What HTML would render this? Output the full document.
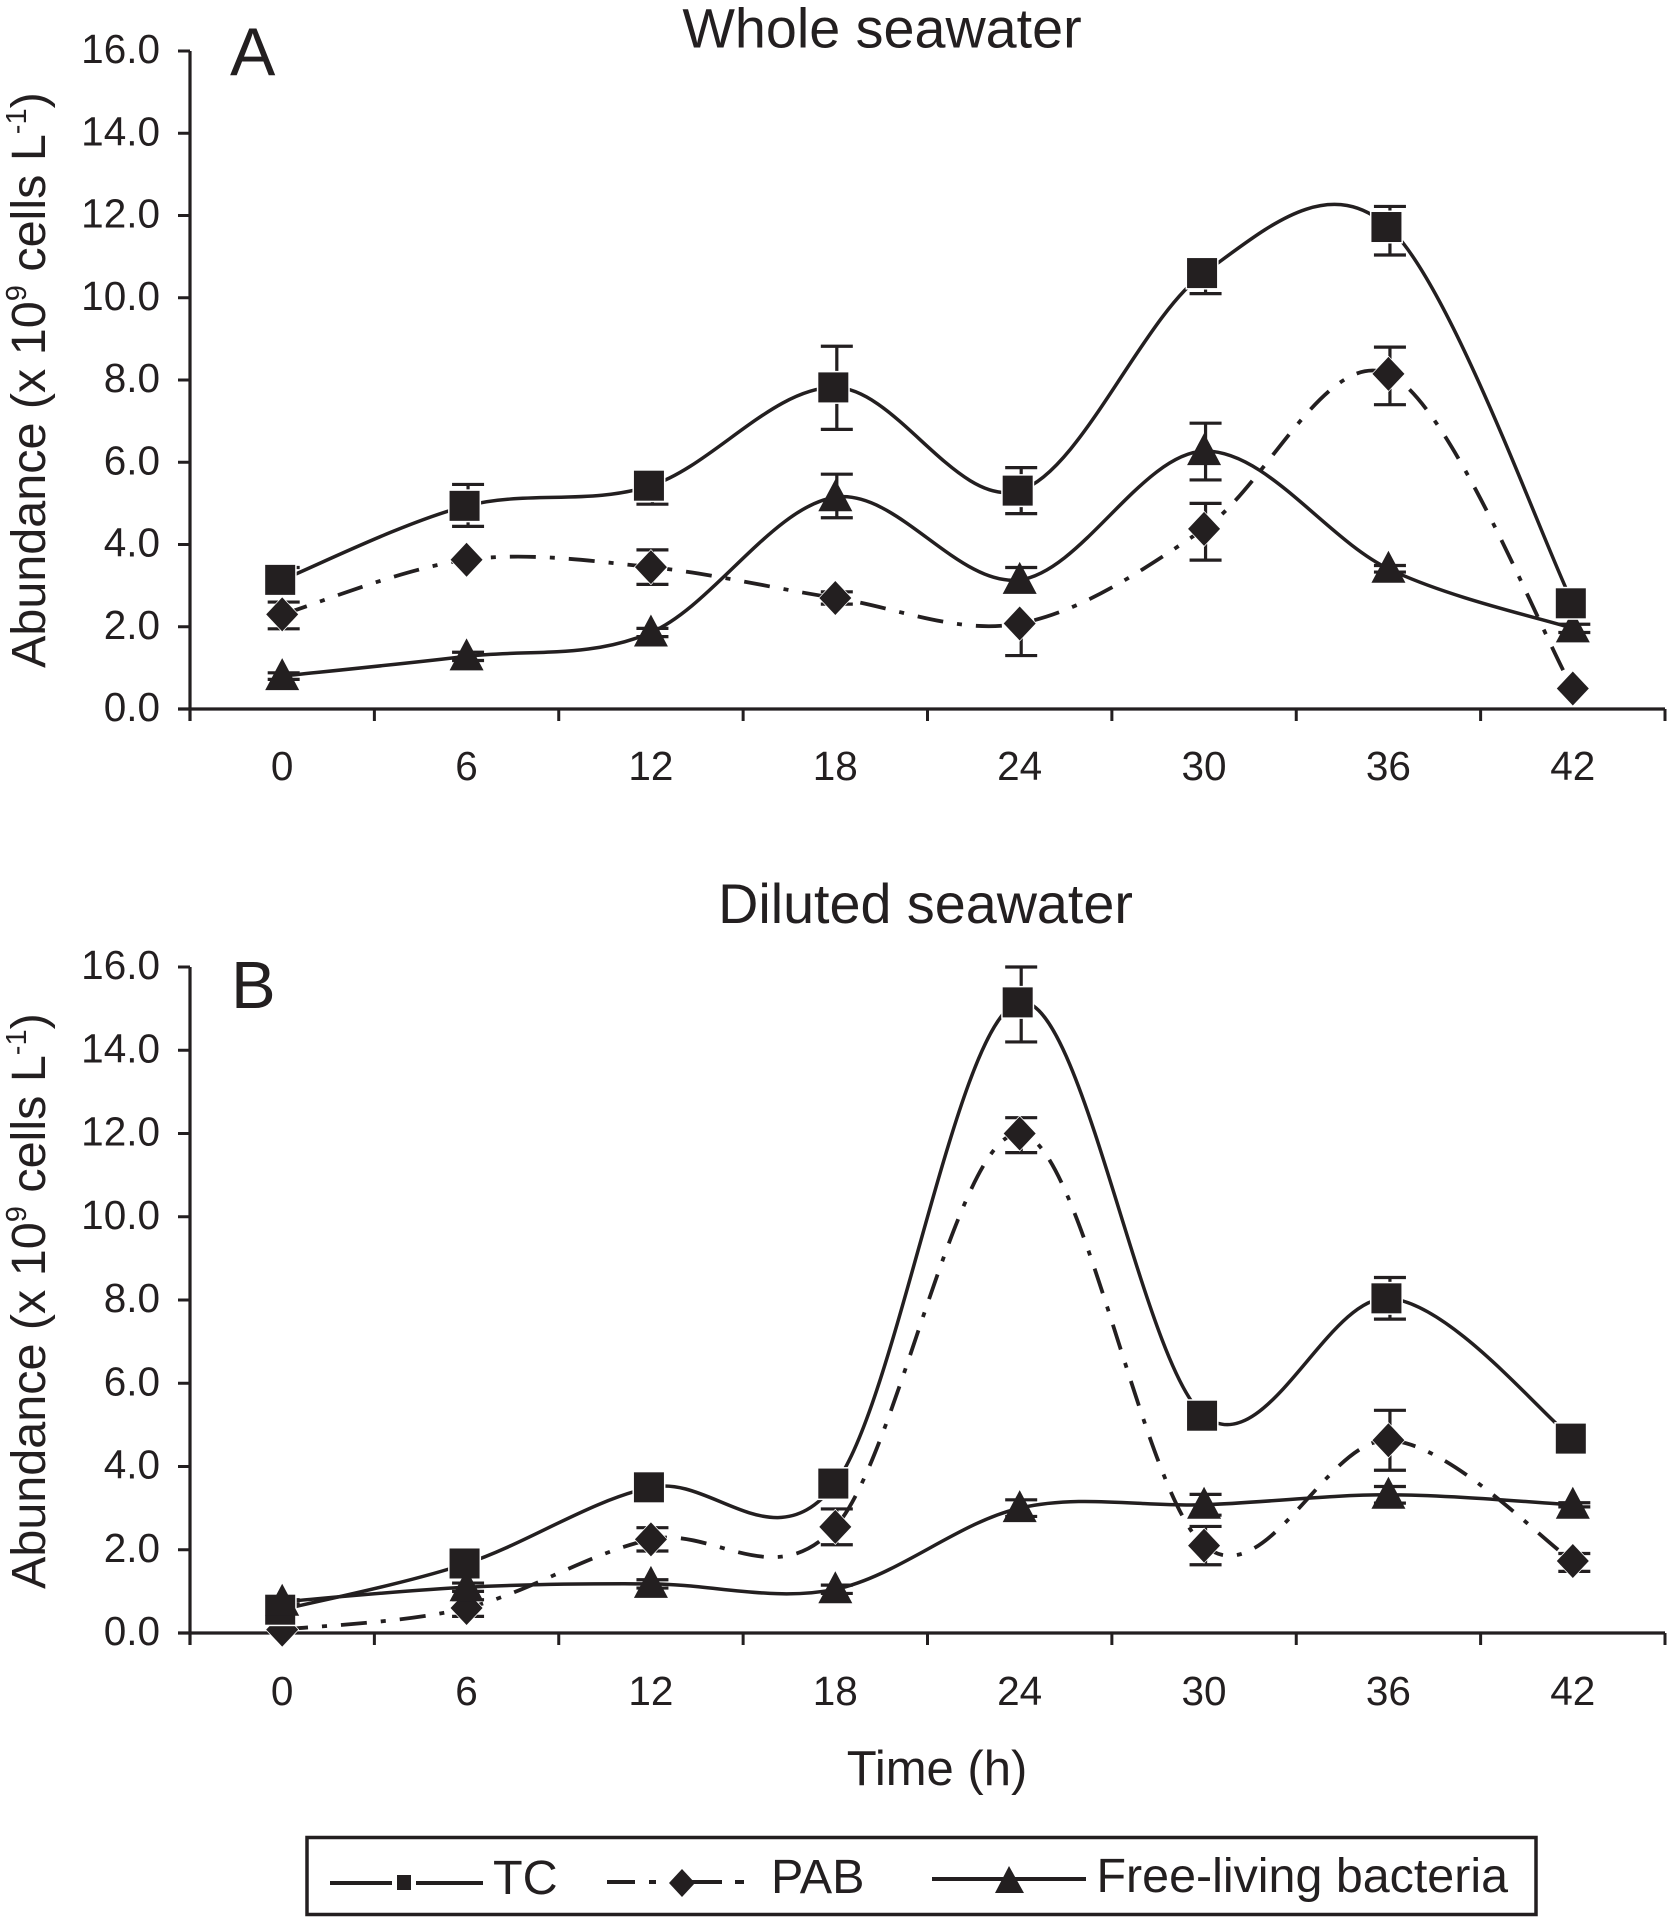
<!DOCTYPE html>
<html lang="en">
<head>
<meta charset="utf-8">
<title>Abundance over time in whole and diluted seawater</title>
<style>
html,body{margin:0;padding:0;background:#fff;width:1668px;height:1917px;overflow:hidden}
svg{display:block}
text{font-family:"Liberation Sans",Arial,sans-serif;fill:#231f20}
</style>
</head>
<body>
<svg id="chart" width="1668" height="1917" viewBox="0 0 1668 1917" xmlns="http://www.w3.org/2000/svg">
  <rect x="0" y="0" width="1668" height="1917" fill="#fff"/>
  <text x="882" y="47.5" font-size="55.7" text-anchor="middle">Whole seawater</text>
  <text x="925.5" y="923" font-size="55.7" text-anchor="middle">Diluted seawater</text>
  <text x="230" y="75" font-size="68">A</text>
  <text x="231" y="1008" font-size="67">B</text>
  <text transform="translate(45,668) rotate(-90)" font-size="48.5">Abundance (x 10<tspan dy="-19" font-size="29">9</tspan><tspan dy="19"> cells L</tspan><tspan dy="-19" font-size="29">-1</tspan><tspan dy="19">)</tspan></text>
  <text transform="translate(45,1589) rotate(-90)" font-size="48.5">Abundance (x 10<tspan dy="-19" font-size="29">9</tspan><tspan dy="19"> cells L</tspan><tspan dy="-19" font-size="29">-1</tspan><tspan dy="19">)</tspan></text>
  <text x="937" y="1785" font-size="49" text-anchor="middle">Time (h)</text>
  <g id="panel-a"></g>
  <g id="panel-b"></g>
  <g>
    <rect x="307" y="1837.5" width="1229" height="77" fill="#fff" stroke="#231f20" stroke-width="3.5"/>
    <g>
      <line x1="330" y1="1883" x2="392" y2="1883" stroke="#231f20" stroke-width="4"/>
      <line x1="416" y1="1883" x2="483" y2="1883" stroke="#231f20" stroke-width="4"/>
      <rect x="397" y="1875" width="14" height="15" fill="#231f20"/>
      <text x="493" y="1894" font-size="48.5">TC</text>
    </g>
    <g>
      <line x1="607" y1="1882" x2="635" y2="1882" stroke="#231f20" stroke-width="4"/>
      <line x1="649" y1="1882" x2="656" y2="1882" stroke="#231f20" stroke-width="4"/>
      <line x1="690" y1="1882" x2="722" y2="1882" stroke="#231f20" stroke-width="4"/>
      <line x1="735" y1="1882" x2="744" y2="1882" stroke="#231f20" stroke-width="4"/>
      <polygon points="682,1869 695,1883 682,1897 669,1883" fill="#231f20"/>
      <text x="771" y="1893" font-size="48.5">PAB</text>
    </g>
    <g>
      <line x1="932" y1="1879" x2="1086" y2="1879" stroke="#231f20" stroke-width="4"/>
      <polygon points="1009,1866 1024,1893 995,1893" fill="#231f20"/>
      <text x="1096.5" y="1892" font-size="48.4">Free-living bacteria</text>
    </g>
  </g>
</svg>
<script>
const timeLabels = ["0", "6", "12", "18", "24", "30", "36", "42"];
const yTickValues = [0, 2, 4, 6, 8, 10, 12, 14, 16];

const wholeTc = [3.14, 4.94, 5.43, 7.82, 5.31, 10.6, 11.72, 2.57];
const wholeTcErrUp = [0.3, 0.52, 0, 1.0, 0.56, 0, 0.5, 0];
const wholeTcErrDown = [0, 0.5, 0.45, 1.02, 0.56, 0.5, 0.68, 0];
const wholePab = [2.3, 3.63, 3.45, 2.7, 2.08, 4.38, 8.15, 0.5];
const wholePabErrUp = [0.3, 0, 0.42, 0.15, 0, 0.62, 0.65, 0];
const wholePabErrDown = [0.35, 0, 0.42, 0.15, 0.78, 0.76, 0.75, 0];
const wholeFree = [0.8, 1.28, 1.86, 5.15, 3.14, 6.27, 3.41, 1.96];
const wholeFreeErrUp = [0.08, 0.1, 0.1, 0.56, 0.3, 0.68, 0.08, 0.1];
const wholeFreeErrDown = [0.08, 0.1, 0.1, 0.5, 0, 0.7, 0.08, 0.1];

const dilutedTc = [0.56, 1.67, 3.5, 3.59, 15.15, 5.22, 8.04, 4.67];
const dilutedTcErrUp = [0, 0, 0, 0, 0.85, 0, 0.5, 0];
const dilutedTcErrDown = [0, 0, 0, 0, 0.95, 0, 0.5, 0];
const dilutedPab = [0.08, 0.6, 2.25, 2.55, 12, 2.1, 4.63, 1.73];
const dilutedPabErrUp = [0, 0.2, 0.28, 0.43, 0.38, 0.46, 0.72, 0.18];
const dilutedPabErrDown = [0, 0.2, 0.28, 0.43, 0.46, 0.46, 0.72, 0.25];
const dilutedFree = [0.75, 1.1, 1.18, 1.05, 3.0, 3.08, 3.32, 3.08];
const dilutedFreeErrUp = [0.05, 0.1, 0.1, 0.1, 0.2, 0.25, 0.2, 0.05];
const dilutedFreeErrDown = [0.05, 0.1, 0.1, 0.1, 0.2, 0.25, 0.2, 0.05];

const NS = "http://www.w3.org/2000/svg";
const INK = "#231f20";

function make(parent, tag, attrs) {
  const el = document.createElementNS(NS, tag);
  for (const k in attrs) el.setAttribute(k, attrs[k]);
  parent.appendChild(el);
  return el;
}

function splinePath(xs, ys) {
  let d = "M" + xs[0] + " " + ys[0];
  for (let i = 0; i < xs.length - 1; i++) {
    const a = Math.max(i - 1, 0), b = Math.min(i + 2, xs.length - 1);
    const c1x = xs[i] + (xs[i + 1] - xs[a]) / 6;
    const c1y = ys[i] + (ys[i + 1] - ys[a]) / 6;
    const c2x = xs[i + 1] - (xs[b] - xs[i]) / 6;
    const c2y = ys[i + 1] - (ys[b] - ys[i]) / 6;
    d += " C" + c1x + " " + c1y + " " + c2x + " " + c2y + " " + xs[i + 1] + " " + ys[i + 1];
  }
  return d;
}

function drawPanel(rootId, prefix, plotTop, plotBottom, tickLabelBaseline, series) {
  const root = document.getElementById(rootId);
  const plotLeft = 190, plotRight = 1665;
  const band = (plotRight - plotLeft) / timeLabels.length;
  const xScale = i => plotLeft + band * (i + 0.5);
  const yScale = v => plotBottom - (v / 16) * (plotBottom - plotTop);

  const yAxis = make(root, "line", {x1: plotLeft, y1: plotTop, x2: plotLeft, y2: plotBottom + 12, stroke: INK, "stroke-width": 3.2});
  
  
  const xAxis = make(root, "line", {x1: plotLeft - 12, y1: plotBottom, x2: plotRight, y2: plotBottom, stroke: INK, "stroke-width": 3.2});
  
  

  yTickValues.forEach(v => {
    const y = yScale(v);
    const tick = make(root, "line", {x1: plotLeft - 12, y1: y, x2: plotLeft, y2: y, stroke: INK, "stroke-width": 3});
    
    
    const label = make(root, "text", {x: 160, y: y + 12, "font-size": 40.5, "text-anchor": "end"});
    
    
    label.textContent = v.toFixed(1);
  });

  for (let i = 1; i <= timeLabels.length; i++) {
    const x = plotLeft + band * i;
    const tick = make(root, "line", {x1: x, y1: plotBottom, x2: x, y2: plotBottom + 12, stroke: INK, "stroke-width": 3});
    
    
  }
  timeLabels.forEach((t, i) => {
    const label = make(root, "text", {x: xScale(i), y: tickLabelBaseline, "font-size": 40.5, "text-anchor": "middle"});
    
    
    label.textContent = t;
  });

  series.forEach(s => {
    const xs = s.values.map((_, i) => xScale(i));
    const ys = s.values.map(yScale);
    const line = make(root, "path", {d: splinePath(xs, ys), fill: "none", stroke: INK, "stroke-width": s.dash ? 3.8 : 3.5});
    if (s.dash) line.setAttribute("stroke-dasharray", s.dash);
    
    

    s.values.forEach((v, i) => {
      const up = s.errUp[i], down = s.errDown[i];
      if (up <= 0 && down <= 0) return;
      const x = xScale(i) + 1.5;
      let d = "M" + x + " " + yScale(v + up) + " V" + yScale(v - down);
      if (up > 0) d += " M" + (x - 16) + " " + yScale(v + up) + " H" + (x + 16);
      if (down > 0) d += " M" + (x - 16) + " " + yScale(v - down) + " H" + (x + 16);
      const bar = make(root, "path", {d: d, fill: "none", stroke: INK, "stroke-width": 3.2});
      
      
    });
  });

  series.forEach(s => {
    s.values.forEach((v, i) => {
      const x = xScale(i), y = yScale(v);
      let mark;
      if (s.key === "tc") {
        mark = make(root, "rect", {x: x - 17, y: y - 15, width: 30, height: 30, fill: INK, stroke: "#fff", "stroke-width": 3, "paint-order": "stroke"});
      } else if (s.key === "pab") {
        mark = make(root, "polygon", {points: x + "," + (y - 17) + " " + (x + 16) + "," + y + " " + x + "," + (y + 17) + " " + (x - 16) + "," + y, fill: INK, stroke: "#fff", "stroke-width": 1.5, "paint-order": "stroke"});
      } else {
        mark = make(root, "polygon", {points: x + "," + (y - 18) + " " + (x + 17) + "," + (y + 14) + " " + (x - 17) + "," + (y + 14), fill: INK});
      }
      
      
    });
  });
}

const PAB_DASH = "26 14 5 14";
drawPanel("panel-a", "whole", 51, 709, 780, [
  {key: "pab", values: wholePab, errUp: wholePabErrUp, errDown: wholePabErrDown, dash: PAB_DASH},
  {key: "free-living", values: wholeFree, errUp: wholeFreeErrUp, errDown: wholeFreeErrDown},
  {key: "tc", values: wholeTc, errUp: wholeTcErrUp, errDown: wholeTcErrDown}
]);
drawPanel("panel-b", "diluted", 967, 1633, 1705, [
  {key: "pab", values: dilutedPab, errUp: dilutedPabErrUp, errDown: dilutedPabErrDown, dash: PAB_DASH},
  {key: "tc", values: dilutedTc, errUp: dilutedTcErrUp, errDown: dilutedTcErrDown},
  {key: "free-living", values: dilutedFree, errUp: dilutedFreeErrUp, errDown: dilutedFreeErrDown}
]);
</script>
</body>
</html>
